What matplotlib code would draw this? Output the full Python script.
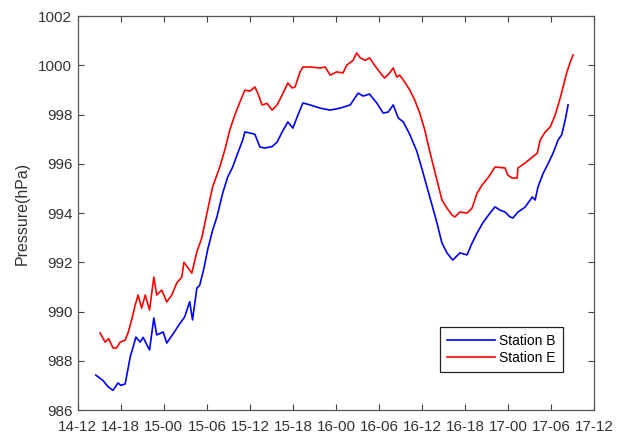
import matplotlib
matplotlib.use("Agg")
import matplotlib.pyplot as plt

# hours after 14-12
b_hours = [2.5, 3.5, 4.2, 4.9, 5.6, 6.0, 6.6, 7.3, 8.1, 8.7, 9.1, 10.0, 10.6, 11.0,
           11.9, 12.4, 13.3, 14.2, 14.9, 15.6, 16.0, 16.6, 17.0, 17.6, 18.1, 18.8,
           19.4, 20.2, 20.9, 21.6, 22.3, 23.0, 23.3, 24.0, 24.7, 25.4, 26.1, 27.1,
           27.8, 28.5, 29.3, 30.0, 30.7, 31.4, 32.4, 33.8, 35.2, 36.6, 38.0, 39.1,
           39.8, 40.7, 41.7, 42.6, 43.3, 44.0, 44.7, 45.4, 46.3, 47.3, 48.1, 49.1,
           50.1, 50.8, 51.5, 52.3, 53.3, 54.3, 55.0, 55.7, 56.5, 57.5, 58.2, 58.9,
           59.6, 60.3, 60.7, 61.4, 62.4, 63.4, 63.8, 64.2, 64.9, 65.6, 66.3, 67.0,
           67.5, 68.0, 68.4]
b_press = [987.42, 987.2, 986.95, 986.8, 987.1, 987.0, 987.06, 988.15, 988.96, 988.76,
           988.95, 988.44, 989.74, 989.05, 989.17, 988.72, 989.1, 989.5, 989.78, 990.4,
           989.66, 990.95, 991.07, 991.77, 992.5, 993.3, 993.84, 994.8, 995.46, 995.87,
           996.43, 996.96, 997.29, 997.25, 997.2, 996.68, 996.64, 996.7, 996.88, 997.29,
           997.7, 997.45, 997.98, 998.47, 998.39, 998.26, 998.18, 998.26, 998.39, 998.87,
           998.75, 998.83, 998.47, 998.06, 998.1, 998.39, 997.86, 997.7, 997.2, 996.5,
           995.7, 994.65, 993.6, 992.78, 992.38, 992.09, 992.38, 992.3, 992.78, 993.19,
           993.6, 994.0, 994.25, 994.12, 994.04, 993.84, 993.8, 994.04, 994.24, 994.65,
           994.53, 995.06, 995.6, 996.0, 996.43, 996.96, 997.17, 997.78, 998.39]

e_hours = [3.1, 3.8, 4.3, 4.9, 5.4, 5.9, 6.6, 7.0, 7.5, 8.0, 8.4, 8.9, 9.4, 10.0,
           10.6, 11.0, 11.7, 12.4, 13.1, 13.8, 14.5, 14.8, 15.4, 15.9, 16.6, 17.3,
           18.1, 18.8, 19.8, 20.5, 21.2, 21.9, 22.6, 23.3, 24.0, 24.7, 25.1, 25.7,
           26.4, 27.1, 27.8, 28.5, 29.3, 29.9, 30.3, 31.0, 31.4, 32.4, 33.8, 34.5,
           35.2, 36.1, 37.0, 37.5, 38.4, 38.9, 39.4, 40.1, 40.7, 41.4, 42.1, 42.8,
           43.5, 44.0, 44.5, 44.9, 45.6, 46.3, 47.0, 47.7, 48.4, 49.1, 50.1, 50.8,
           51.5, 52.2, 52.6, 53.3, 54.3, 55.0, 55.7, 56.4, 57.2, 58.2, 58.9, 59.6,
           60.0, 60.6, 61.3, 61.4, 62.4, 63.4, 64.1, 64.5, 65.2, 65.9, 66.6, 67.3,
           67.7, 68.2, 68.7, 69.1]
e_press = [989.13, 988.76, 988.9, 988.52, 988.52, 988.76, 988.84, 989.13, 989.66, 990.26,
           990.67, 990.14, 990.67, 990.06, 991.4, 990.67, 990.87, 990.39, 990.67, 991.16,
           991.4, 992.0, 991.77, 991.56, 992.42, 993.0, 994.12, 995.06, 995.87, 996.56,
           997.37, 997.98, 998.5, 998.99, 998.95, 999.12, 998.87, 998.39, 998.45, 998.18,
           998.39, 998.79, 999.28, 999.08, 999.12, 999.73, 999.93, 999.93, 999.89, 999.93,
           999.6, 999.73, 999.69, 1000.0, 1000.2, 1000.5, 1000.3, 1000.2, 1000.3, 1000.0,
           999.73, 999.48, 999.69, 999.89, 999.52, 999.6, 999.32, 999.0, 998.59, 998.06,
           997.37, 996.5, 995.34, 994.53, 994.2, 993.92, 993.84, 994.04, 994.0, 994.2,
           994.8, 995.14, 995.42, 995.87, 995.85, 995.83, 995.54, 995.42, 995.42, 995.83,
           996.03, 996.27, 996.43, 996.96, 997.29, 997.49, 997.98, 998.67, 999.12, 999.69,
           1000.13, 1000.42]

tick_hours = list(range(0, 73, 6))
tick_labels = ["14-12", "14-18", "15-00", "15-06", "15-12", "15-18", "16-00",
               "16-06", "16-12", "16-18", "17-00", "17-06", "17-12"]

plt.rcParams["font.family"] = ["Liberation Sans", "DejaVu Sans"]
fig = plt.figure(figsize=(6.18, 4.33), dpi=100)
ax = fig.add_axes([0.126, 0.053, 0.835, 0.910])

ax.plot(b_hours, b_press, color="#0000ff", lw=1.2, label="Station B")
ax.plot(e_hours, e_press, color="#ff0000", lw=1.2, label="Station E")

ax.set_xlim(0, 72)
ax.set_ylim(986, 1002)
ax.set_xticks(tick_hours)
ax.set_xticklabels(tick_labels)
ax.set_yticks(range(986, 1003, 2))
ax.tick_params(direction="in", top=True, right=True, length=4, width=0.8,
               labelsize=11, colors="#404040", labelcolor="#333333", pad=4)
ax.tick_params(axis="x", pad=7)
for s in ax.spines.values():
    s.set_color("#555555")
    s.set_linewidth(0.9)
ax.set_ylabel("Pressure(hPa)", fontsize=11.5, color="#333333", labelpad=6)

leg = ax.legend(loc="lower right", bbox_to_anchor=(0.940, 0.096), borderaxespad=0,
                fancybox=False, framealpha=1, edgecolor="#222222", fontsize=10,
                handlelength=3.4, labelspacing=0.25, borderpad=0.5,
                handletextpad=0.35)
leg.get_frame().set_linewidth(0.9)

fig.savefig("out.png", dpi=100)
